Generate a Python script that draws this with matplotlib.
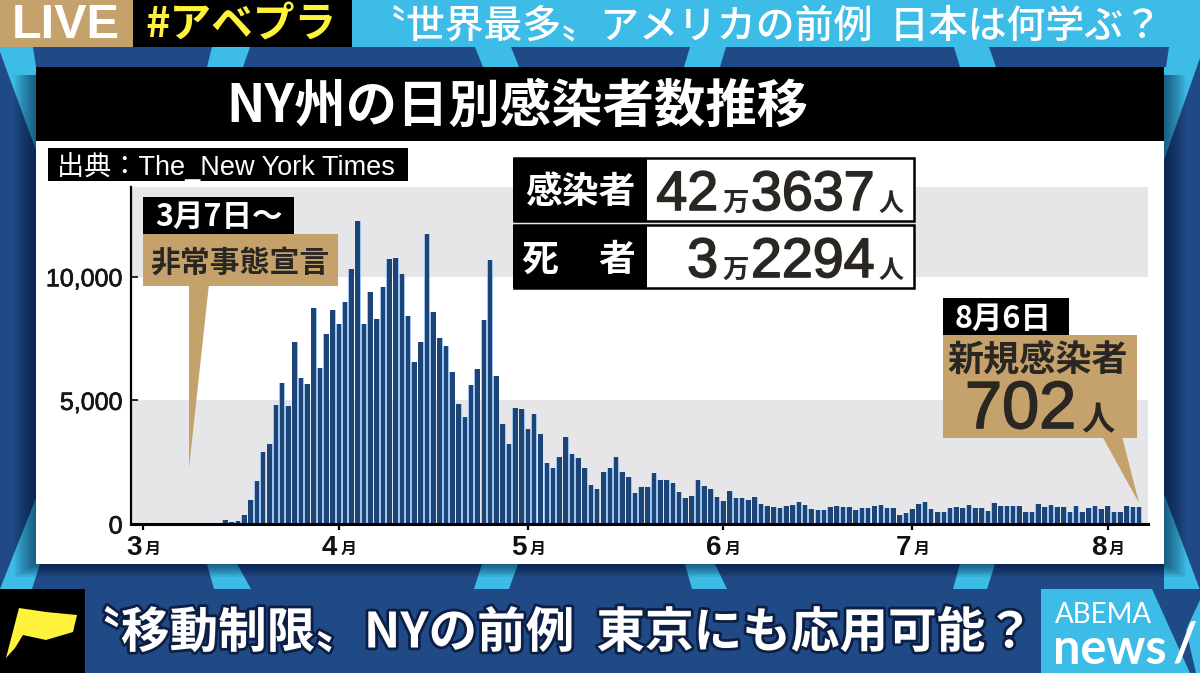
import numpy as np
import matplotlib
matplotlib.use("Agg")
import matplotlib.pyplot as plt
from matplotlib.patches import Polygon, Rectangle
import matplotlib.patheffects as pe

plt.rcParams["font.family"] = ["Noto Sans CJK JP", "DejaVu Sans"]

JP = ["Noto Sans CJK JP", "DejaVu Sans"]
NUM = ["Liberation Sans", "Noto Sans CJK JP"]

# days counted from March 1st, the first bar is March 14th
first_day = 13
daily_cases = [
    160, 70, 135, 377, 970, 1724, 2923, 3233, 4795, 5698, 4782, 7368, 5900, 5671,
    8742, 6304, 7705, 8675, 8109, 8971, 10305, 12258, 8096, 9389, 8284, 9591, 10736, 10763,
    10116, 8432, 6533, 7368, 11746, 8594, 7516, 7206, 6156, 4849, 4310, 5630, 6290, 8270,
    10668, 5981, 4041, 3246, 4688, 4661, 3852, 4458, 3650, 2478, 2276, 2721, 3502, 2842,
    2667, 2276, 1562, 1400, 2088, 2263, 2721,
    2115, 1900, 1240, 1480, 1480, 2075, 1765, 1765, 1657, 1280, 1050, 1118, 1765, 1522,
    1414, 1091, 930, 1320, 1037, 1037, 983, 1091, 795, 714, 687, 660, 727, 781, 889, 754,
    606, 579, 566, 687, 714, 673, 673, 566, 646, 646, 714, 781,
    647, 647, 364, 445, 593, 822, 876, 620, 498, 485, 660, 674, 633, 781, 633, 633, 539,
    835, 727, 741, 741, 741, 498, 485, 822, 674, 768, 687, 687, 498, 741, 498, 647, 741,
    620, 714, 498, 498, 714, 702, 702,
]
month_days = [0, 31, 61, 92, 122, 153]
month_labels = ["3", "4", "5", "6", "7", "8"]
y_ticks = [0, 5000, 10000]
y_labels = ["0", "5,000", "10,000"]

BLUE = "#1f4a85"
CYAN = "#3dbce8"
TAN = "#c5a26c"
GRAY = "#e6e6e8"
INK = "#2a2622"

fig = plt.figure(figsize=(12, 6.73), dpi=100)


def pixel_axes(zorder):
    a = fig.add_axes([0, 0, 1, 1], zorder=zorder)
    a.set_xlim(0, 1200)
    a.set_ylim(673, 0)
    a.axis("off")
    return a


bg = pixel_axes(0)
top = pixel_axes(2)


def box(a, x0, y0, x1, y1, color, **kw):
    a.add_patch(Rectangle((x0, y0), x1 - x0, y1 - y0, facecolor=color, edgecolor=kw.pop("edge", "none"), **kw))


def poly(a, pts, color, **kw):
    a.add_patch(Polygon(pts, closed=True, facecolor=color, edgecolor="none", **kw))


# broadcast background
box(bg, 0, 0, 1200, 673, BLUE)
stripes = [
    [(0, 47), (33, 47), (36, 67), (36, 150), (0, 52)],
    [(212, 47), (250, 47), (243, 67), (207, 67)],
    [(475, 47), (511, 47), (519, 67), (483, 67)],
    [(690, 47), (726, 47), (720, 67), (684, 67)],
    [(954, 47), (989, 47), (996, 67), (960, 67)],
    [(1169, 47), (1200, 47), (1200, 58), (1164, 160), (1164, 67), (1166, 67)],
    [(0, 589), (36, 498), (36, 564), (40, 564), (32, 589)],
    [(207, 564), (237, 564), (251, 589), (214, 589)],
    [(482, 564), (518, 564), (509, 589), (474, 589)],
    [(685, 564), (715, 564), (727, 589), (692, 589)],
    [(960, 564), (995, 564), (987, 589), (953, 589)],
    [(1164, 494), (1200, 590), (1200, 673), (1164, 673)],
]
for s in stripes:
    poly(bg, s, CYAN)
for i in range(24):
    pad = 22 - i
    box(bg, 36 - pad, 67 + 8, 1164 + pad, 564 + pad * 0.6, "#06122e", alpha=0.03)

# panel
box(bg, 36, 141, 1164, 564, "white")
box(bg, 36, 67, 1164, 141, "black")
bg.text(226, 106, "NY州の日別感染者数推移", color="white", fontsize=37, fontweight="bold", family=JP, va="center", ha="left")

# top strip
box(bg, 0, 0, 133, 47, TAN)
box(bg, 133, 0, 352, 47, "black")
box(bg, 352, 0, 1200, 47, CYAN)
bg.text(66, 26, "LIVE", color="white", fontsize=35, fontweight="bold", family=NUM, ha="center", va="center")
bg.text(145, 26, "#アベプラ", color="#fff23c", fontsize=30, fontweight="bold", family=JP, ha="left", va="center")
bg.text(1162, 26, "〝世界最多〟アメリカの前例  日本は何学ぶ？", color="white", fontsize=28, fontweight="medium", family=JP, ha="right", va="center")

# bottom strip
box(bg, 0, 589, 1200, 673, BLUE)
box(bg, 0, 589, 85, 673, "black")
flag = [(19, 608), (46, 612), (77, 615), (73, 632), (46, 640), (23, 635), (15, 648), (6, 658)]
poly(bg, flag, "#fff23c")
bg.text(1034, 633, "〝移動制限〟NYの前例  東京にも応用可能？", color="white", fontsize=35, fontweight="bold", family=JP, ha="right", va="center",
        path_effects=[pe.withStroke(linewidth=4, foreground="#0d1f45")])
poly(bg, [(1041, 589), (1152, 589), (1190, 673), (1041, 673)], CYAN)
poly(bg, [(1164, 589), (1200, 589), (1200, 673), (1190, 673)], BLUE)
poly(bg, [(1186, 630), (1200, 600), (1200, 673), (1196, 673)], CYAN)
bg.text(1055, 615, "ABEMA", color="white", fontsize=20, family="Lato", ha="left", va="center")
bg.text(1053, 649, "news", color="white", fontsize=35, fontweight="bold", family="Lato", ha="left", va="center")
bg.text(1185, 645, "/", color="white", fontsize=38, fontweight="bold", family="Lato", ha="center", va="center")

# chart
px_left, px_right, px_top, px_base = 131, 1148, 187, 524
ax = fig.add_axes([px_left / 1200, 1 - px_base / 673, (px_right - px_left) / 1200, (px_base - px_top) / 673], zorder=1)
ax.patch.set_alpha(0)
ax.set_xlim(-1.98, 159.4)
ax.set_ylim(0, 13632)
ax.axhspan(0, 5000, color=GRAY, lw=0, zorder=0)
ax.axhspan(10000, 13632, color=GRAY, lw=0, zorder=0)

days = np.arange(len(daily_cases)) + first_day
ax.bar(days, daily_cases, width=0.95, color="#9fc4ee", zorder=2)
ax.bar(days, daily_cases, width=0.72, color="#1d4477", zorder=3)

for side in ["top", "right"]:
    ax.spines[side].set_visible(False)
ax.spines["left"].set_linewidth(1.6)
ax.spines["bottom"].set_linewidth(2.2)
ax.spines["bottom"].set_zorder(5)
ax.set_yticks(y_ticks, y_labels, family=NUM, fontsize=18, color="#151515",
              path_effects=[pe.withStroke(linewidth=0.5, foreground="#151515")])
ax.tick_params(axis="y", direction="in", length=5, width=1.2, pad=6)
ax.set_xticks(month_days, [""] * len(month_days))
ax.tick_params(axis="x", direction="out", length=4.5, width=1.6)
for d, m in zip(month_days, month_labels):
    ax.annotate(m, xy=(d, 0), xycoords=("data", "axes fraction"), xytext=(-1, -8), textcoords="offset points",
                ha="right", va="top", fontsize=20, fontweight="bold", family=NUM, color="#111111")
    ax.annotate("月", xy=(d, 0), xycoords=("data", "axes fraction"), xytext=(1, -12), textcoords="offset points",
                ha="left", va="top", fontsize=11.5, fontweight="bold", family=JP, color="#111111")

# overlays
box(top, 48, 148, 408, 181, "black")
top.text(57, 166, "出典：The_New York Times", color="white", fontsize=19.5, family=NUM, ha="left", va="center")

for y0, y1 in [(158, 221), (225, 288)]:
    box(top, 514, y0, 914, y1, "white", edge="black", linewidth=1.8)
    box(top, 513, y0, 647, y1, "black")
top.text(580, 192, "感染者", color="white", fontsize=26.5, fontweight="bold", family=JP, ha="center", va="center")
top.text(540, 260, "死", color="white", fontsize=26.5, fontweight="bold", family=JP, ha="center", va="center")
top.text(617, 260, "者", color="white", fontsize=26.5, fontweight="bold", family=JP, ha="center", va="center")

for base, man, rest, x_man in [(210, "42", "3637", 718), (277, "3", "2294", 718)]:
    top.text(x_man, base, man, color=INK, fontsize=40, family=NUM, ha="right", va="baseline",
             path_effects=[pe.withStroke(linewidth=1.2, foreground=INK)])
    top.text(722, base + 1, "万", color=INK, fontsize=19, fontweight="bold", family=JP, ha="left", va="baseline")
    top.text(751, base, rest, color=INK, fontsize=40, family=NUM, ha="left", va="baseline",
             path_effects=[pe.withStroke(linewidth=1.2, foreground=INK)])
    top.text(878, base + 1, "人", color=INK, fontsize=18, fontweight="bold", family=JP, ha="left", va="baseline")

# left callout
poly(top, [(189, 284), (209, 284), (189, 468)], TAN)
box(top, 143, 234, 338, 286, TAN)
box(top, 143, 197, 294, 234, "black")
top.text(155, 217, "3月7日〜", color="white", fontsize=22, fontweight="bold", family=JP, ha="left", va="center")
top.text(240, 263, "非常事態宣言", color=INK, fontsize=21.5, fontweight="bold", family=JP, ha="center", va="center")

# right callout
poly(top, [(1102, 436), (1122, 436), (1139, 503)], TAN)
box(top, 943, 335, 1137, 438, TAN)
box(top, 943, 298, 1069, 335, "black")
top.text(955, 319, "8月6日", color="white", fontsize=22, fontweight="bold", family=JP, ha="left", va="center")
top.text(1038, 360, "新規感染者", color=INK, fontsize=26, fontweight="bold", family=JP, ha="center", va="center")
top.text(965, 428, "702", color=INK, fontsize=48, family=NUM, ha="left", va="baseline",
         path_effects=[pe.withStroke(linewidth=1.2, foreground=INK)])
top.text(1081, 430, "人", color=INK, fontsize=24, fontweight="bold", family=JP, ha="left", va="baseline")

fig.savefig("out.png", dpi=100)
plt.close(fig)
